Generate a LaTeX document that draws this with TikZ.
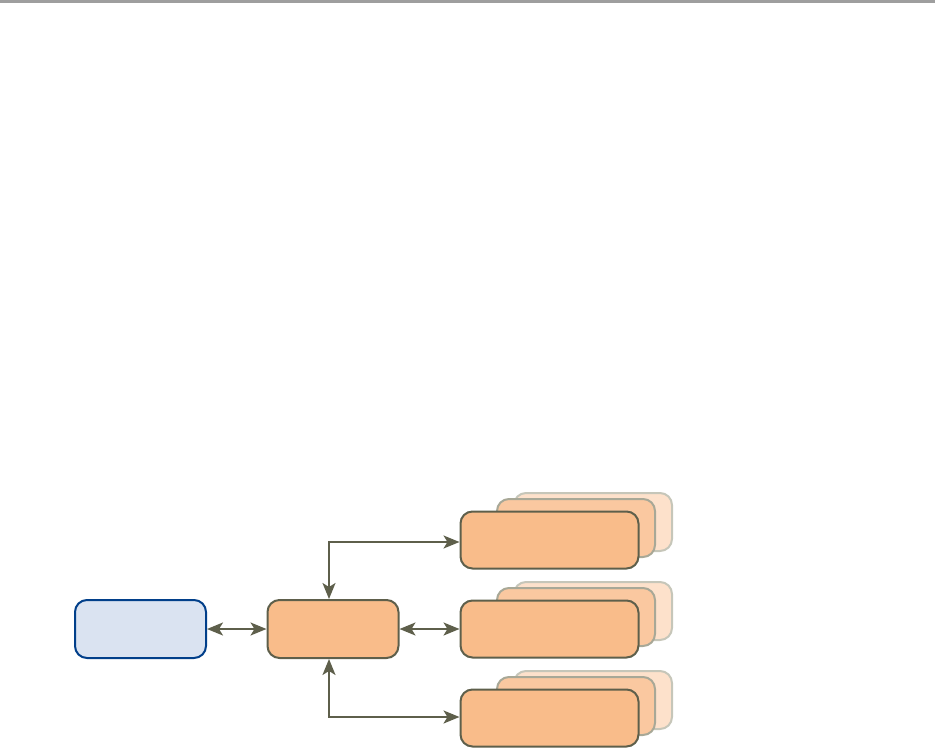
\documentclass[tikz,border=0pt]{standalone}
\usetikzlibrary{arrows.meta}
\definecolor{edge}{HTML}{5E5F4B}
\definecolor{peach}{HTML}{F9BC8A}
\definecolor{peachmid}{HTML}{FAC8A0}
\definecolor{peachback}{HTML}{FDE1CB}
\definecolor{rimmid}{HTML}{A8A897}
\definecolor{rimback}{HTML}{C6C6B9}
\definecolor{skyfill}{HTML}{DAE3F1}
\definecolor{navy}{HTML}{013F8A}
\begin{document}
\begin{tikzpicture}[x=1pt,y=-1pt,>={Stealth[length=16pt 0,width=13pt 0,inset=4pt]},
  b/.style={draw=edge,line width=2pt,rounded corners=12pt,fill=peach,minimum width=131pt,minimum height=58pt,inner sep=0pt},
  bw/.style={b,minimum width=178pt,minimum height=57pt},
  bm/.style={b,draw=rimmid,fill=peachmid,minimum width=158pt},
  bb/.style={b,draw=rimback,fill=peachback,minimum width=158pt},
  link/.style={<->,draw=edge,line width=2pt}]
\useasboundingbox (0,0) rectangle (935,749);
\draw[line width=3pt,color=black!38] (0,1.5)--(935,1.5);
\node[b,draw=navy,fill=skyfill] (src) at (140.5,629){};
\node[b] (hub) at (333,629){};
\foreach \n/\y in {a/540,b/629,c/718}{
  \node[bb] (\n2) at (593,\y-18){};
  \node[bm] (\n1) at (576,\y-12){};
  \node[bw] (\n0) at (549.5,\y){};
}
\coordinate (up) at (329,542);\coordinate (dn) at (329,717);
\draw[link] (src)--(hub);\draw[link] (hub)--(b0);
\draw[link] ([xshift=-4pt]hub.north)--(up)--(a0.west|-up);
\draw[link] ([xshift=-4pt]hub.south)--(dn)--(c0.west|-dn);
\end{tikzpicture}
\end{document}
